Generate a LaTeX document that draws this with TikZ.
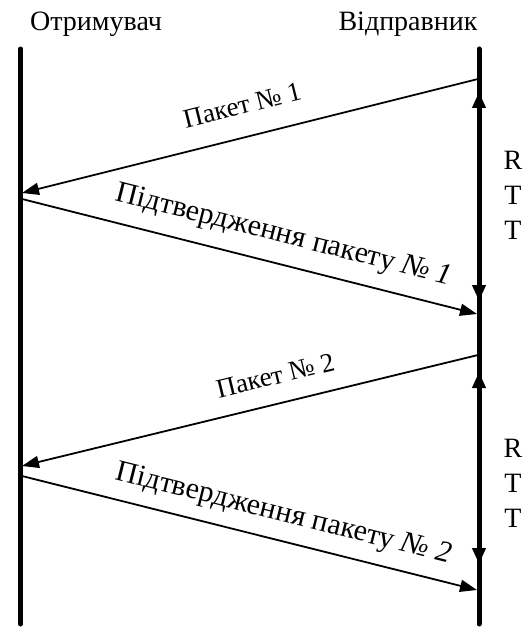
\documentclass[tikz,border=0pt]{standalone}
\usepackage{fontspec}
\setmainfont{Liberation Serif}
\usetikzlibrary{arrows.meta}
\begin{document}
\begin{tikzpicture}[x=1pt,y=-1pt,
  lifeline/.style={line width=5pt,line cap=round},
  msg/.style={line width=1.8pt,-{Triangle[length=17pt,width=12pt]}},
  rtt/.style={line width=5pt,{Triangle[length=16pt,width=13pt]}-{Triangle[length=16pt,width=13pt]}},
  txt/.style={font=\fontsize{28}{33}\selectfont, inner sep=2pt},
  pktlbl/.style={font=\fontsize{27}{32}\selectfont, inner sep=2pt, sloped},
  acklbl/.style={font=\fontsize{30}{35}\selectfont, inner sep=2pt, sloped},
  rttlbl/.style={font=\fontsize{28}{35}\selectfont, align=center, inner sep=0pt}]
  \useasboundingbox (0,0) rectangle (527,628);

  % headers
  \node[txt, anchor=base] (recv) at (96,31) {Отримувач};
  \node[txt, anchor=base] (send) at (408,31) {Відправник};

  % lifelines
  \coordinate (ltop) at (20.5,49);
  \coordinate (lbot) at (20.5,624);
  \coordinate (rtop) at (479,49);
  \coordinate (rbot) at (479,624);
  \draw[lifeline] (ltop) -- (lbot);
  \draw[lifeline] (rtop) -- (rbot);

  % message end points
  \coordinate (s1) at (478,79);
  \coordinate (r1) at (22,193);
  \coordinate (a1) at (22,199);
  \coordinate (e1) at (477,314);
  \coordinate (s2) at (478,355);
  \coordinate (r2) at (22,466);
  \coordinate (a2) at (22,476);
  \coordinate (e2) at (477,590);

  % messages
  \draw[msg] (s1) -- node[pktlbl,above=20pt,pos=0.50] (p1) {Пакет № 1} (r1);
  \draw[msg] (a1) -- node[acklbl,above=12pt,pos=0.56] (c1) {Підтвердження пакету \textit{№ 1}} (e1);
  \draw[msg] (s2) -- node[pktlbl,above=16pt,pos=0.43] (p2) {Пакет № 2} (r2);
  \draw[msg] (a2) -- node[acklbl,above=10pt,pos=0.56] (c2) {Підтвердження пакету \textit{№ 2}} (e2);

  % round-trip times
  \coordinate (t1a) at (479,92);
  \coordinate (t1b) at (479,301);
  \coordinate (t2a) at (479,372);
  \coordinate (t2b) at (479,564);
  \draw[rtt] (t1a) -- (t1b);
  \draw[rtt] (t2a) -- (t2b);
  \node[rttlbl] (rtt1) at (513,195) {R\\T\\T};
  \node[rttlbl] (rtt2) at (513,483) {R\\T\\T};
\end{tikzpicture}
\end{document}
